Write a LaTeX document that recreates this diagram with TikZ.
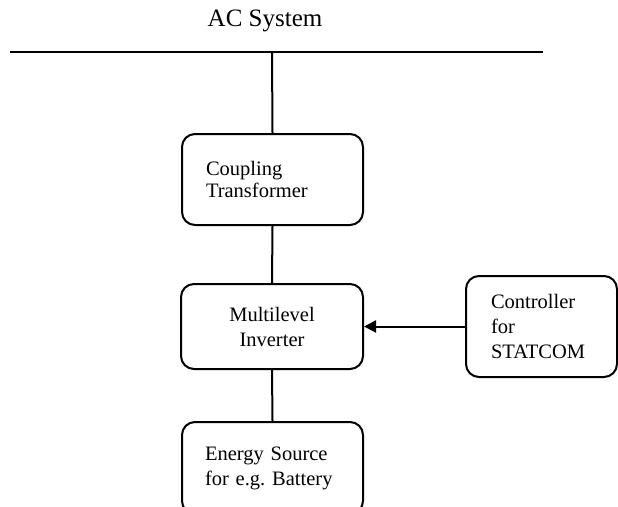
\documentclass[tikz,border=0pt]{standalone}
\usepackage{fontspec}
\setmainfont{Liberation Serif}
\usetikzlibrary{arrows.meta}
\frenchspacing
\begin{document}
\begin{tikzpicture}[x=1pt,y=-1pt,
  box/.style={draw,line width=2pt,rounded corners=13pt,inner sep=0pt,
    font=\fontsize{20.5}{25}\selectfont},
  wire/.style={line width=2pt}]
\clip (0,0) rectangle (618,506);
\fill[white] (0,0) rectangle (618,506);
\node[anchor=base,font=\fontsize{25}{30}\selectfont] (title) at (265,27) {AC System};
\coordinate (busL) at (10,52);
\coordinate (busR) at (543,52);
\coordinate (busJ) at (272,52);
\node[box,minimum width=181pt,minimum height=91pt,text width=133pt,align=left,
  font=\fontsize{20.5}{22.5}\selectfont] (coup) at (272.5,179.5) {Coupling\\Transformer};
\node[box,minimum width=182pt,minimum height=85pt,align=center] (multi) at (272,326.5) {Multilevel\\Inverter};
\node[box,minimum width=151pt,minimum height=101pt,text width=101pt,align=left] (ctrl) at (541.5,326.5) {Controller\\for\\STATCOM};
\node[box,minimum width=181pt,minimum height=92pt,text width=135pt,align=left] (src) at (272.5,468) {Energy Source\\for e.g. Battery};
\draw[wire] (busL) -- (busR);
\draw[wire] (busJ) -- (coup.north);
\draw[wire] (coup.south) -- (multi.north);
\draw[wire] (multi.south) -- (src.north);
\draw[wire,-{Triangle[length=12pt,width=12pt]}] (ctrl.west) -- (multi.east);
\end{tikzpicture}
\end{document}
